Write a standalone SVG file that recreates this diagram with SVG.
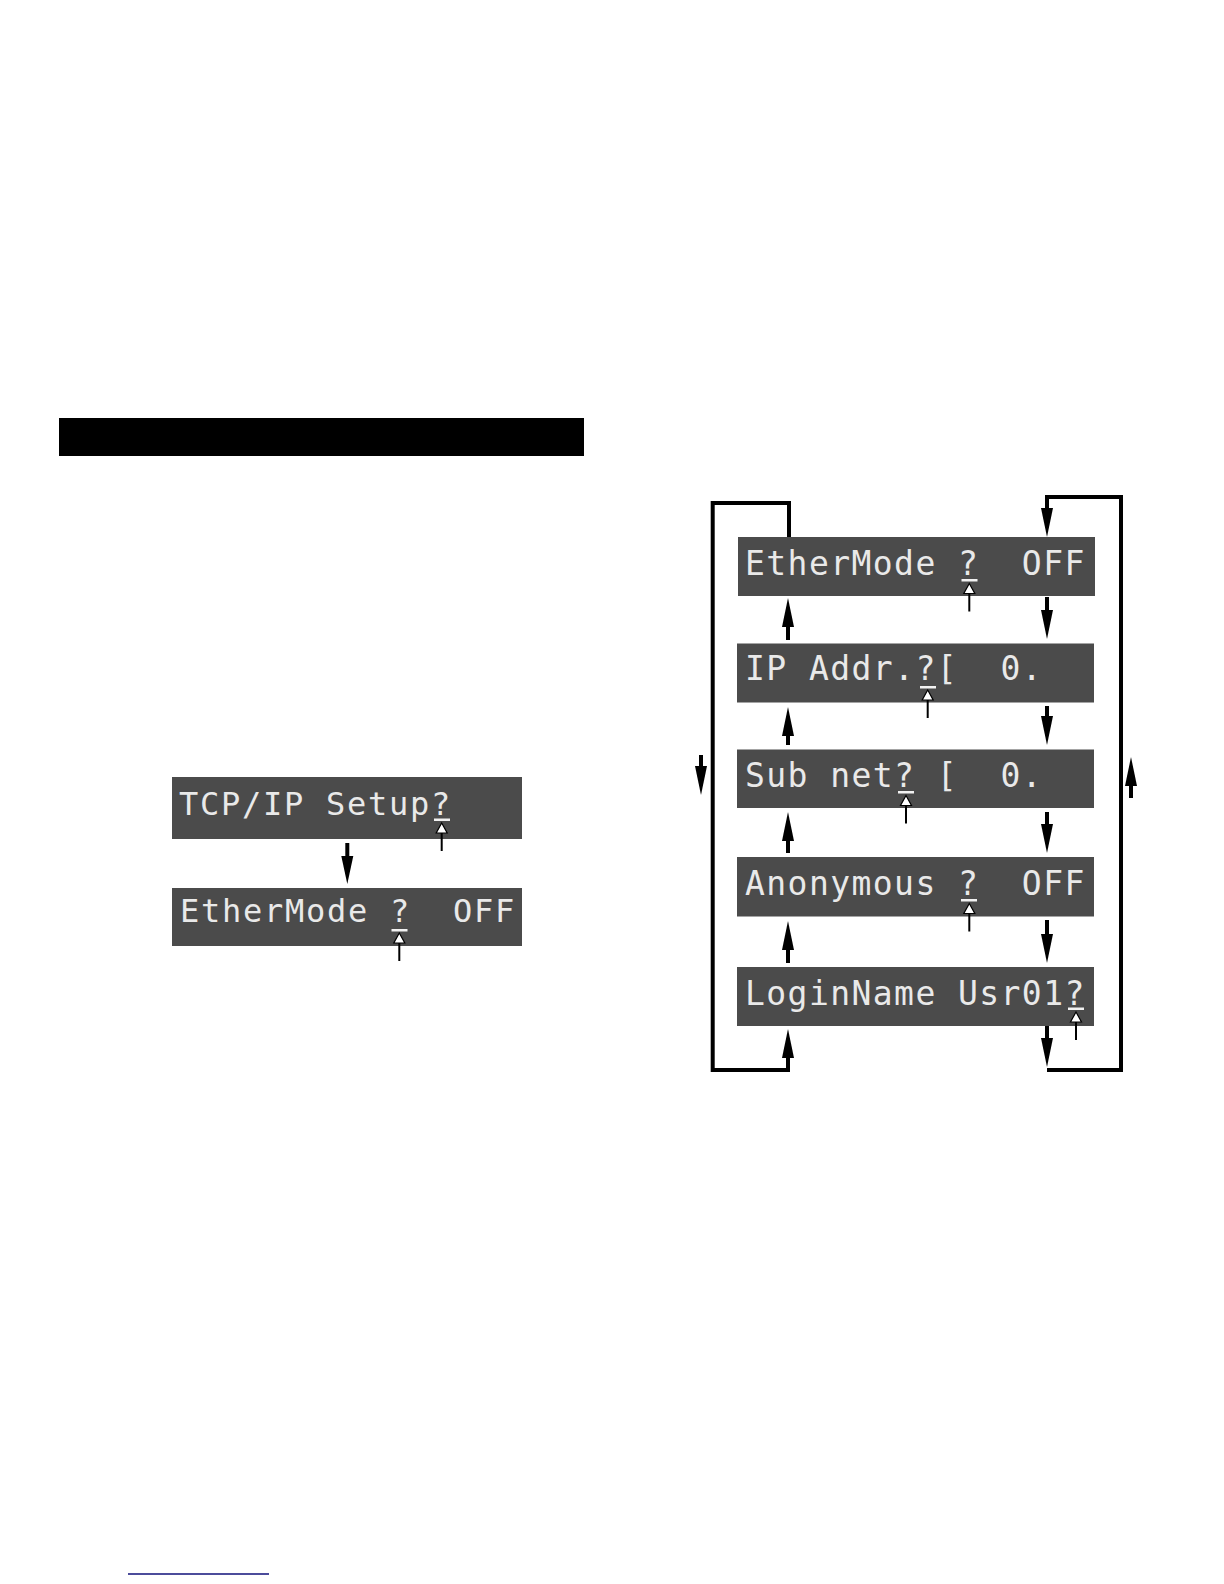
<svg xmlns="http://www.w3.org/2000/svg" xmlns:xlink="http://www.w3.org/1999/xlink" width="1224" height="1584" viewBox="0 0 1224 1584" xml:space="preserve">
<style>
.lcd{fill:#4b4b4b}
.t{font-family:"DejaVu Sans Mono","Liberation Mono",monospace;fill:#e9e9e9;white-space:pre}
.tl{font-size:32px;letter-spacing:1.74px}
.tr{font-size:33px;letter-spacing:1.43px}
.ul{fill:#f2f2f2}
.conn{fill:none;stroke:#000;stroke-width:4}
.head{fill:#000}
</style>
<defs>
<g id="ind">
<line x1="0" y1="9" x2="0" y2="28" stroke="#000" stroke-width="2"/>
<path d="M0,0 L5.5,10 L-5.5,10 Z" fill="#fff" stroke="#000" stroke-width="1.2"/>
</g>
</defs>
<rect width="1224" height="1584" fill="#fff"/>
<rect id="titlebar" x="59" y="418" width="525" height="38" fill="#000"/>
<line x1="128" y1="1574" x2="269" y2="1574" stroke="#10107a" stroke-width="1.5"/>

<g id="left-tcpip">
<rect class="lcd" x="172" y="777" width="350" height="62"/>
<text class="t tl" x="179" y="815">TCP/IP Setup?</text>
<rect class="ul" x="434" y="818.5" width="16" height="2.5"/>
<use xlink:href="#ind" x="441.7" y="823"/>
</g>
<g id="left-ethermode">
<rect class="lcd" x="172" y="888" width="350" height="58"/>
<text class="t tl" x="180" y="922">EtherMode ?  OFF</text>
<rect class="ul" x="391.5" y="929" width="16" height="2.5"/>
<use xlink:href="#ind" x="399.3" y="933"/>
</g>

<g id="ethermode">
<rect class="lcd" x="738" y="537" width="357" height="59"/>
<text class="t tr" x="745" y="575">EtherMode ?  OFF</text>
<rect class="ul" x="961.5" y="579" width="16" height="2.5"/>
<use xlink:href="#ind" x="969.3" y="583.5"/>
</g>
<g id="ipaddr">
<rect class="lcd" x="737" y="643.5" width="357" height="59"/>
<text class="t tr" x="745" y="680">IP Addr.?[  0.</text>
<rect class="ul" x="920" y="686" width="16" height="2.5"/>
<use xlink:href="#ind" x="927.7" y="690"/>
</g>
<g id="subnet">
<rect class="lcd" x="737" y="749.5" width="357" height="58.5"/>
<text class="t tr" x="745" y="787">Sub net? [  0.</text>
<rect class="ul" x="898" y="791" width="16" height="2.5"/>
<use xlink:href="#ind" x="906" y="795.5"/>
</g>
<g id="anonymous">
<rect class="lcd" x="737" y="857" width="357" height="59.5"/>
<text class="t tr" x="745" y="895">Anonymous ?  OFF</text>
<rect class="ul" x="961" y="899" width="16" height="2.5"/>
<use xlink:href="#ind" x="969.3" y="903.5"/>
</g>
<g id="loginname">
<rect class="lcd" x="737" y="967" width="357" height="59"/>
<text class="t tr" x="745" y="1005">LoginName Usr01?</text>
<rect class="ul" x="1068" y="1007.5" width="16" height="2.5"/>
<use xlink:href="#ind" x="1076" y="1012"/>
</g>

<g id="connectors">
<line class="conn" x1="347.3" y1="843" x2="347.3" y2="865"/>
<path class="head" d="M341.3,856 L353.3,856 L347.3,884 Z"/>
<polyline class="conn" points="788,1070 712.7,1070 712.7,503 789,503 789,537"/>
<polyline class="conn" points="1047,497 1121,497 1121,1070 1047,1070"/>
<line class="conn" x1="788" y1="618" x2="788" y2="640"/>
<path class="head" d="M788,598 L794,627 L782,627 Z"/>
<line class="conn" x1="788" y1="727" x2="788" y2="745"/>
<path class="head" d="M788,707 L794,736 L782,736 Z"/>
<line class="conn" x1="788" y1="832" x2="788" y2="853"/>
<path class="head" d="M788,812 L794,841 L782,841 Z"/>
<line class="conn" x1="788" y1="941" x2="788" y2="963"/>
<path class="head" d="M788,921 L794,950 L782,950 Z"/>
<line class="conn" x1="788" y1="1049" x2="788" y2="1072"/>
<path class="head" d="M788,1029 L794,1058 L782,1058 Z"/>
<line class="conn" x1="1047" y1="495" x2="1047" y2="517"/>
<path class="head" d="M1041,508 L1053,508 L1047,537 Z"/>
<line class="conn" x1="1047" y1="597" x2="1047" y2="619"/>
<path class="head" d="M1041,610 L1053,610 L1047,639 Z"/>
<line class="conn" x1="1047" y1="706" x2="1047" y2="725"/>
<path class="head" d="M1041,716 L1053,716 L1047,745 Z"/>
<line class="conn" x1="1047" y1="812" x2="1047" y2="833"/>
<path class="head" d="M1041,824 L1053,824 L1047,853 Z"/>
<line class="conn" x1="1047" y1="920" x2="1047" y2="943"/>
<path class="head" d="M1041,934 L1053,934 L1047,963 Z"/>
<line class="conn" x1="1047" y1="1026" x2="1047" y2="1047"/>
<path class="head" d="M1041,1038 L1053,1038 L1047,1067 Z"/>
<line class="conn" x1="701" y1="755" x2="701" y2="775"/>
<path class="head" d="M695,766 L707,766 L701,795 Z"/>
<line class="conn" x1="1131" y1="777" x2="1131" y2="798"/>
<path class="head" d="M1131,757 L1137,786 L1125,786 Z"/>
</g>
</svg>
